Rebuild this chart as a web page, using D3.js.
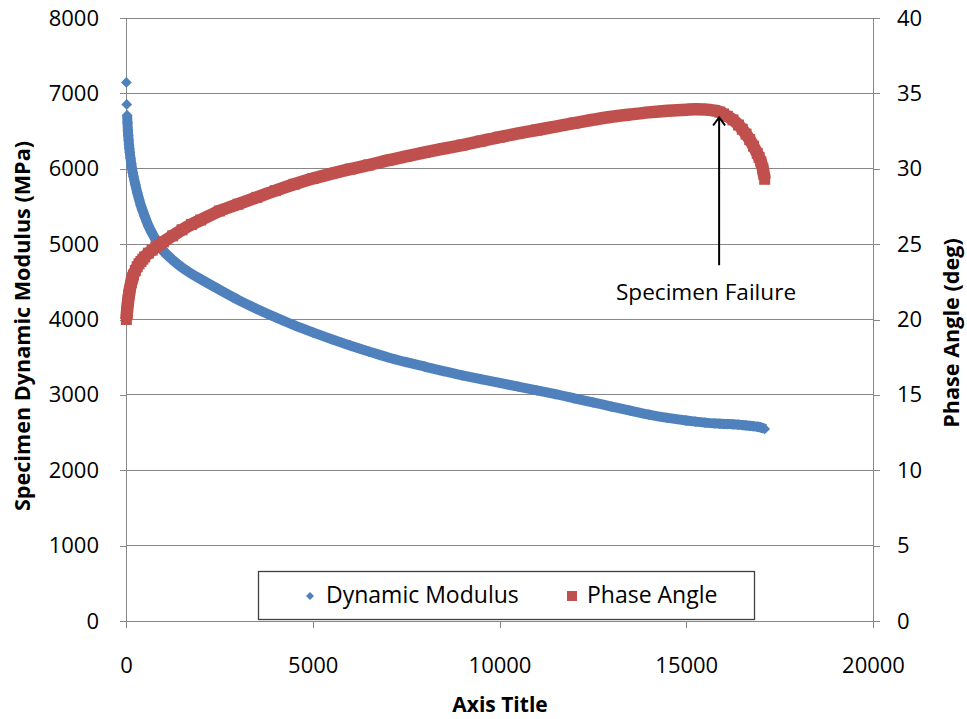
<!DOCTYPE html>
<html><head><meta charset="utf-8">
<script src="https://cdn.jsdelivr.net/npm/d3@7"></script>
<style>
body{margin:0;background:#fff}
svg text{font-family:"Open Sans", Lato, sans-serif;fill:#000}
</style>
</head><body>
<svg id="c" width="967" height="719"></svg>
<script>
// ---- data ----
const cycles = [10,20,30,40,50,60,70,80,90,100,120,140,160,180,200,250,300,350,400,450,500,600,700,800,900,1000,1250,1500,1750,2000,2500,3000,3500,4000,4500,5000,5500,6000,6500,7000,7500,8000,8500,9000,9500,10000,10500,11000,11500,12000,12500,13000,13500,14000,14500,15000,15250,15500,15750,15900,16000,16100,16250,16400,16500,16600,16700,16800,16900,16950,17000,17050,17100];
const dynamicModulus = [7145,6853,6711,6609,6512,6440,6380,6320,6270,6220,6140,6070,6005,5950,5900,5790,5685,5595,5510,5440,5370,5245,5145,5055,4970,4910,4790,4690,4608,4535,4395,4260,4140,4030,3925,3830,3740,3655,3575,3500,3435,3375,3315,3260,3208,3158,3110,3060,3010,2955,2900,2845,2790,2738,2695,2660,2645,2632,2622,2618,2615,2613,2610,2605,2600,2595,2590,2584,2578,2574,2568,2560,2548];
const phaseAngle = [20.0,20.3,20.6,20.85,21.1,21.3,21.5,21.65,21.8,21.95,22.2,22.45,22.65,22.8,22.95,23.25,23.5,23.7,23.85,24.0,24.15,24.4,24.6,24.8,24.97,25.15,25.55,25.95,26.3,26.6,27.2,27.65,28.1,28.55,28.97,29.35,29.68,29.98,30.25,30.55,30.82,31.08,31.33,31.57,31.83,32.1,32.34,32.57,32.8,33.03,33.25,33.45,33.6,33.74,33.85,33.92,33.94,33.93,33.86,33.76,33.63,33.48,33.24,32.9,32.62,32.3,31.93,31.5,31.02,30.75,30.45,30.0,29.3];
const xTicks = [0,5000,10000,15000,20000];
const leftTicks = [0,1000,2000,3000,4000,5000,6000,7000,8000];
const rightTicks = [0,5,10,15,20,25,30,35,40];
const seriesNames = ["Dynamic Modulus","Phase Angle"];
const xTitle = "Axis Title";
const leftTitle = "Specimen Dynamic Modulus (MPa)";
const rightTitle = "Phase Angle (deg)";
const failureLabel = "Specimen Failure";
const failureCycle = 15880, failureTipAngle = 33.4, failureTailAngle = 23.6;

// ---- layout ----
const svg = d3.select("#c");
const FONT = '"Open Sans", Lato, sans-serif';
const L = 126, R = 873, T = 18, B = 621;
const x = d3.scaleLinear().domain([0,20000]).range([L,R]);
const yL = d3.scaleLinear().domain([0,8000]).range([B,T]);
const yR = d3.scaleLinear().domain([0,40]).range([B,T]);
const blue = "#4F81BD", red = "#C0504D", grid = "#878787";

// gridlines
svg.append("g").selectAll("line").data(leftTicks.filter(d=>d>0)).join("line")
  .attr("x1",L).attr("x2",R).attr("y1",d=>yL(d)).attr("y2",d=>yL(d))
  .attr("stroke",grid).attr("stroke-width",1).attr("shape-rendering","crispEdges");

function styleAxis(g){
  g.selectAll("path.domain").attr("stroke",grid).attr("shape-rendering","crispEdges");
  g.selectAll(".tick line").attr("stroke",grid).attr("shape-rendering","crispEdges");
  g.selectAll("text").attr("font-size",22).attr("font-family",FONT).attr("fill","#000");
}
svg.append("g").attr("transform",`translate(0,${B})`)
  .call(d3.axisBottom(x).tickValues(xTicks).tickSize(7).tickSizeOuter(0).tickPadding(29).tickFormat(d3.format("d")))
  .call(styleAxis);
svg.append("g").attr("transform",`translate(${L},0)`)
  .call(d3.axisLeft(yL).tickValues(leftTicks).tickSize(6).tickSizeOuter(0).tickPadding(21).tickFormat(d3.format("d")))
  .call(styleAxis);
svg.append("g").attr("transform",`translate(${R},0)`)
  .call(d3.axisRight(yR).tickValues(rightTicks).tickSize(7).tickSizeOuter(0).tickPadding(17).tickFormat(d3.format("d")))
  .call(styleAxis);

// axis titles
svg.append("text").attr("x",500).attr("y",712).attr("text-anchor","middle")
  .attr("font-size",21).attr("font-weight","bold").text(xTitle);
svg.append("text").attr("transform","translate(30,326) rotate(-90)").attr("text-anchor","middle")
  .attr("font-size",21.6).attr("font-weight","bold").text(leftTitle);
svg.append("text").attr("transform","translate(959,333) rotate(-90)").attr("text-anchor","middle")
  .attr("font-size",21.6).attr("font-weight","bold").text(rightTitle);

// series
const pts = cycles.map((c,i)=>({c, m:dynamicModulus[i], p:phaseAngle[i]}));
const lineM = d3.line().x(d=>x(d.c)).y(d=>yL(d.m)).curve(d3.curveMonotoneX);
const lineP = d3.line().x(d=>x(d.c)).y(d=>yR(d.p)).curve(d3.curveMonotoneX);

svg.append("path").datum(pts.slice(2)).attr("d",lineM).attr("fill","none")
  .attr("stroke",blue).attr("stroke-width",10).attr("stroke-linejoin","round");
const diamond = d3.symbol().type(d3.symbolSquare).size(58);
svg.append("g").selectAll("path").data(pts).join("path")
  .attr("d",diamond()).attr("transform",d=>`translate(${x(d.c)},${yL(d.m)}) rotate(45)`).attr("fill",blue);

svg.append("path").datum(pts).attr("d",lineP).attr("fill","none")
  .attr("stroke",red).attr("stroke-width",12.5).attr("stroke-linejoin","round");
svg.append("g").selectAll("rect").data(pts).join("rect")
  .attr("x",d=>x(d.c)-5.5).attr("y",d=>yR(d.p)-5.5).attr("width",11).attr("height",11).attr("fill",red);

// annotation
const ax = x(failureCycle);
svg.append("line").attr("x1",ax).attr("x2",ax).attr("y1",yR(failureTailAngle)).attr("y2",yR(failureTipAngle)+1)
  .attr("stroke","#000").attr("stroke-width",2);
svg.append("path").attr("d",`M${ax-6},${yR(failureTipAngle)+8} L${ax},${yR(failureTipAngle)} L${ax+6},${yR(failureTipAngle)+8}`)
  .attr("fill","none").attr("stroke","#000").attr("stroke-width",2);
svg.append("text").attr("x",706).attr("y",300).attr("text-anchor","middle").attr("font-size",22.6).text(failureLabel);

// legend
const lg = svg.append("g");
lg.append("rect").attr("x",258.5).attr("y",571.5).attr("width",496).attr("height",48)
  .attr("fill","#fff").attr("stroke","#404040").attr("stroke-width",1.3);
lg.append("path").attr("d",d3.symbol().type(d3.symbolSquare).size(32)()).attr("transform","translate(310,596) rotate(45)").attr("fill",blue);
lg.append("text").attr("x",326).attr("y",603).attr("font-size",23).text(seriesNames[0]);
lg.append("rect").attr("x",567).attr("y",591).attr("width",10).attr("height",10).attr("fill",red);
lg.append("text").attr("x",587).attr("y",603).attr("font-size",23).text(seriesNames[1]);
</script>
</body></html>
